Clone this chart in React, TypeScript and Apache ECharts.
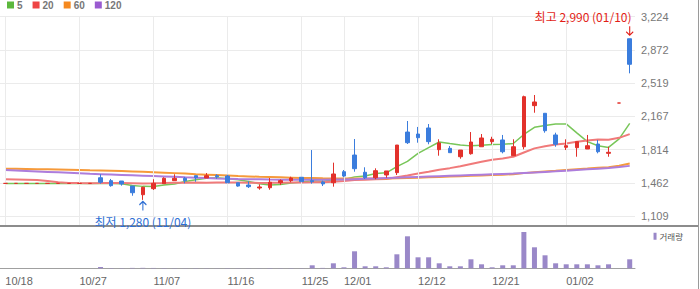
import React, { useEffect, useRef } from "react";
import * as echarts from "echarts";

const dates = [
  "10/18","10/19","10/20","10/21","10/24","10/25","10/26","10/27","10/28","10/31",
  "11/01","11/02","11/03","11/04","11/07","11/08","11/09","11/10","11/11","11/14",
  "11/15","11/16","11/17","11/18","11/21","11/22","11/23","11/24","11/25","11/28",
  "11/29","11/30","12/01","12/02","12/05","12/06","12/07","12/08","12/09","12/12",
  "12/13","12/14","12/15","12/16","12/19","12/20","12/21","12/22","12/23","12/26",
  "12/27","12/28","12/29","01/02","01/03","01/04","01/05","01/06","01/09","01/10",
];

const opens = [
  1455,1455,1455,1455,1455,1455,1455,1455,1455,1515,
  1484,1480,1427,1335,1399,1452,1484,1509,1537,1512,
  1537,1533,1462,1438,1406,1409,1462,1484,1520,1484,
  1470,1462,1579,1756,1573,1515,1544,1569,2000,1979,
  2043,1813,1827,1738,1770,1844,1898,1916,1749,1844,
  2280,2199,1969,1838,1834,1820,1873,1774,2308,2990,
];
const closes = [
  1455,1455,1455,1455,1455,1455,1455,1455,1455,1467,
  1431,1449,1356,1414,1456,1509,1509,1484,1515,1537,
  1526,1462,1427,1420,1417,1467,1484,1512,1473,1473,
  1449,1555,1533,1611,1515,1590,1587,1862,1887,1940,
  1898,1884,1781,1809,1894,1937,1923,1791,1844,2375,
  2319,2014,1870,1855,1898,1855,1791,1785,2308,2719,
];
const lows = [
  1455,1455,1455,1455,1455,1455,1455,1455,1455,1452,
  1420,1431,1324,1280,1385,1452,1484,1456,1473,1512,
  1505,1462,1420,1406,1388,1388,1438,1467,1473,1452,
  1427,1420,1520,1579,1502,1499,1515,1544,1873,1887,
  1870,1749,1781,1717,1760,1844,1873,1774,1749,1817,
  2205,1993,1844,1809,1738,1820,1774,1738,2308,2623,
];
const highs = [
  1455,1455,1455,1455,1455,1455,1455,1455,1455,1552,
  1502,1480,1427,1420,1499,1520,1552,1523,1537,1565,
  1552,1547,1462,1477,1445,1512,1498,1526,1520,1809,
  1484,1675,1597,1926,1626,1615,1587,1862,2117,2054,
  2085,1923,1852,1809,2000,1979,1950,1969,1923,2386,
  2393,2199,1993,1923,1898,1969,1916,1844,2308,2990,
];
const volumes = [
  0,0,0,0,0,0,0,0,0,13000,
  3000,2500,4000,4500,3500,3000,2500,2000,2500,2000,
  1500,2500,2000,1800,1500,3000,2000,2500,2000,30000,
  4000,50000,10000,170000,20000,20000,10000,140000,320000,110000,
  110000,50000,20000,20000,90000,40000,10000,30000,30000,363000,
  210000,130000,50000,40000,40000,40000,30000,40000,0,90000,
];

const ma5Lead = [1455, 1455, 1455, 1455];
const ma20Lead = [1499,1497,1494,1490,1480,1466,1460,1458,1457,1458,1460,1459,1457,1455,1456,1458,1461,1463,1465];
const ma60 = [
  1611,1610,1608,1606,1604,1602,1600,1598,1595,1593,
  1590,1586,1582,1578,1574,1569,1564,1559,1553,1548,
  1543,1538,1533,1529,1525,1522,1519,1516,1513,1511,
  1509,1508,1507,1507,1507,1507,1508,1510,1513,1516,
  1519,1523,1527,1531,1535,1540,1544,1548,1553,1564,
  1574,1582,1589,1597,1605,1612,1620,1627,1643,1666,
];
const ma120 = [
  1597,1592,1587,1582,1577,1572,1567,1562,1557,1553,
  1549,1545,1541,1537,1533,1529,1525,1520,1516,1512,
  1508,1505,1502,1500,1498,1496,1495,1494,1494,1494,
  1495,1496,1497,1500,1503,1507,1511,1515,1519,1523,
  1527,1531,1535,1539,1543,1547,1551,1555,1559,1565,
  1571,1577,1583,1590,1597,1604,1611,1618,1628,1641,
];

const tickLabels = ["10/18","10/27","11/07","11/16","11/25","12/01","12/12","12/21","01/02"];
const yTicks = { min: 1109, max: 3224, step: 352.5 };
const legendNames = ["5", "20", "60", "120"];

const RED = "#e2312b";
const BLUE = "#3b7ddd";
const HI_RED = "#e21d17";
const LO_BLUE = "#2e6fd4";

const ARROW_DOWN = "path://M3.5,0L3.5,9M0.5,5.5L3.5,9L6.5,5.5";
const ARROW_UP = "path://M3.5,9L3.5,0M0.5,3.5L3.5,0L6.5,3.5";

function movingAvg(period: number, lead: number[]) {
  return closes.map((_, i) => {
    if (i < period - 1) return lead[i];
    let s = 0;
    for (let k = i - period + 1; k <= i; k++) s += closes[k];
    return Math.round((s / period) * 10) / 10;
  });
}

const fmt = (v: number) => Math.round(v).toLocaleString("en-US");

export default function App() {
  const ref = useRef<HTMLDivElement>(null);
  useEffect(() => {
    if (!ref.current) return;
    const chart = echarts.init(ref.current, undefined, { renderer: "svg" });
    const ma5 = movingAvg(5, ma5Lead);
    const ma20 = movingAvg(20, ma20Lead);
    const candle = dates.map((_, i) => [opens[i], closes[i], lows[i], highs[i]]);
    const hiVal = Math.max(...highs);
    const hiIdx = highs.indexOf(hiVal);
    const loVal = Math.min(...lows);
    const loIdx = lows.indexOf(loVal);
    const showTick = (_i: number, v: string) => tickLabels.includes(v);
    const font = "'Liberation Sans', Arial, sans-serif";
    const kfont = "'Noto Sans CJK KR', sans-serif";

    chart.setOption({
      animation: false,
      grid: [
        { left: 0, right: 65, top: 16.7, height: 199.3 },
        { left: 0, right: 65, top: 16.7, height: 208.3 },
        { left: 0, right: 65, top: 226, height: 42.3 },
      ],
      legend: [
        {
          data: legendNames,
          left: 7,
          top: 0,
          padding: 0,
          icon: "rect",
          itemWidth: 7,
          itemHeight: 7,
          itemGap: 10,
          selectedMode: false,
          textStyle: { color: "#777", fontSize: 10, fontWeight: "bold", fontFamily: font, padding: [0, 0, 0, -2] },
        },
        {
          data: ["거래량"],
          right: 17,
          top: 232,
          padding: 0,
          icon: "rect",
          itemWidth: 3,
          itemHeight: 7,
          selectedMode: false,
          textStyle: { color: "#555", fontSize: 8.5, fontFamily: kfont, padding: [0, 0, 0, -2] },
        },
      ],
      xAxis: [
        { type: "category", gridIndex: 0, data: dates, show: false },
        { type: "category", gridIndex: 1, data: dates, show: false },
        {
          type: "category",
          gridIndex: 2,
          data: dates,
          axisLine: { lineStyle: { color: "#a0a0a0" } },
          axisTick: { alignWithLabel: true, interval: showTick, length: 4, lineStyle: { color: "#a0a0a0" } },
          axisLabel: { interval: showTick, align: "left", margin: 7, fontSize: 11, color: "#666", fontFamily: font },
          splitLine: { show: false },
        },
      ],
      yAxis: [
        {
          type: "value",
          gridIndex: 0,
          position: "right",
          min: yTicks.min,
          max: yTicks.max,
          interval: yTicks.step,
          axisLine: { show: false },
          axisTick: { show: false },
          axisLabel: { margin: 6, fontSize: 11, color: "#777", fontFamily: font, formatter: (v: number) => fmt(v) },
          splitLine: { lineStyle: { color: "#ebebeb" } },
        },
        { type: "value", gridIndex: 1, min: 0, max: 1, show: false },
        { type: "value", gridIndex: 2, min: 0, max: 423000, show: false },
      ],
      series: [
        {
          type: "line",
          xAxisIndex: 1,
          yAxisIndex: 1,
          data: dates.map(() => null),
          silent: true,
          z: 0,
          markLine: {
            silent: true,
            symbol: ["none", "none"],
            label: { show: false },
            lineStyle: { color: "#ebebeb", type: "solid", width: 1 },
            data: tickLabels.map((d) => ({ xAxis: d })),
          },
        },
        { name: "5", type: "line", data: ma5, symbol: "none", color: "#5cb83c", lineStyle: { width: 1.5, color: "#78c659" }, z: 3 },
        { name: "20", type: "line", data: ma20, symbol: "none", color: "#ee4444", lineStyle: { width: 2, color: "#f07a7a" }, z: 3 },
        { name: "60", type: "line", data: ma60, symbol: "none", color: "#f5891f", lineStyle: { width: 2, color: "#f69a3a" }, z: 3 },
        { name: "120", type: "line", data: ma120, symbol: "none", color: "#9a5bd0", lineStyle: { width: 2, color: "#ad7ddc" }, z: 3 },
        {
          name: "price",
          type: "candlestick",
          data: candle,
          barWidth: 4,
          z: 5,
          itemStyle: {
            color: RED,
            color0: BLUE,
            borderColor: RED,
            borderColor0: BLUE,
            borderColorDoji: RED,
            borderWidth: 1,
          },
          markPoint: {
            silent: true,
            data: [
              {
                coord: [dates[hiIdx], hiVal],
                symbol: ARROW_DOWN,
                symbolSize: [7, 9],
                symbolOffset: [0, -8],
                itemStyle: { color: "none", borderColor: HI_RED, borderWidth: 1.2 },
                label: {
                  show: true,
                  position: [7.5, -1],
                  align: "right",
                  verticalAlign: "bottom",
                  color: HI_RED,
                  fontSize: 12,
                  fontFamily: kfont,
                  formatter: `최고 ${fmt(hiVal)} (${dates[hiIdx]})`,
                },
              },
              {
                coord: [dates[loIdx], loVal],
                symbol: ARROW_UP,
                symbolSize: [7, 9],
                symbolOffset: [0, 6],
                itemStyle: { color: "none", borderColor: LO_BLUE, borderWidth: 1.2 },
                label: {
                  show: true,
                  position: "bottom",
                  distance: 2,
                  color: LO_BLUE,
                  fontSize: 12,
                  fontFamily: kfont,
                  formatter: `최저 ${fmt(loVal)} (${dates[loIdx]})`,
                },
              },
            ],
          },
        },
        {
          name: "거래량",
          type: "bar",
          xAxisIndex: 2,
          yAxisIndex: 2,
          data: volumes,
          barWidth: 5,
          color: "#9a88c8",
          itemStyle: { color: "#9a88c8" },
        },
      ],
      graphic: [
        { type: "rect", shape: { x: 0, y: 225, width: 699, height: 2 }, style: { fill: "#8c8c8c" }, silent: true },
        { type: "line", shape: { x1: 698.5, y1: 0, x2: 698.5, y2: 289 }, style: { stroke: "#9a9a9a", lineWidth: 1 }, silent: true },
      ],
    });
    return () => chart.dispose();
  }, []);
  return (
    <div
      ref={ref}
      style={{ position: "fixed", left: 0, top: 0, width: 700, height: 289, background: "#fff" }}
    />
  );
}
